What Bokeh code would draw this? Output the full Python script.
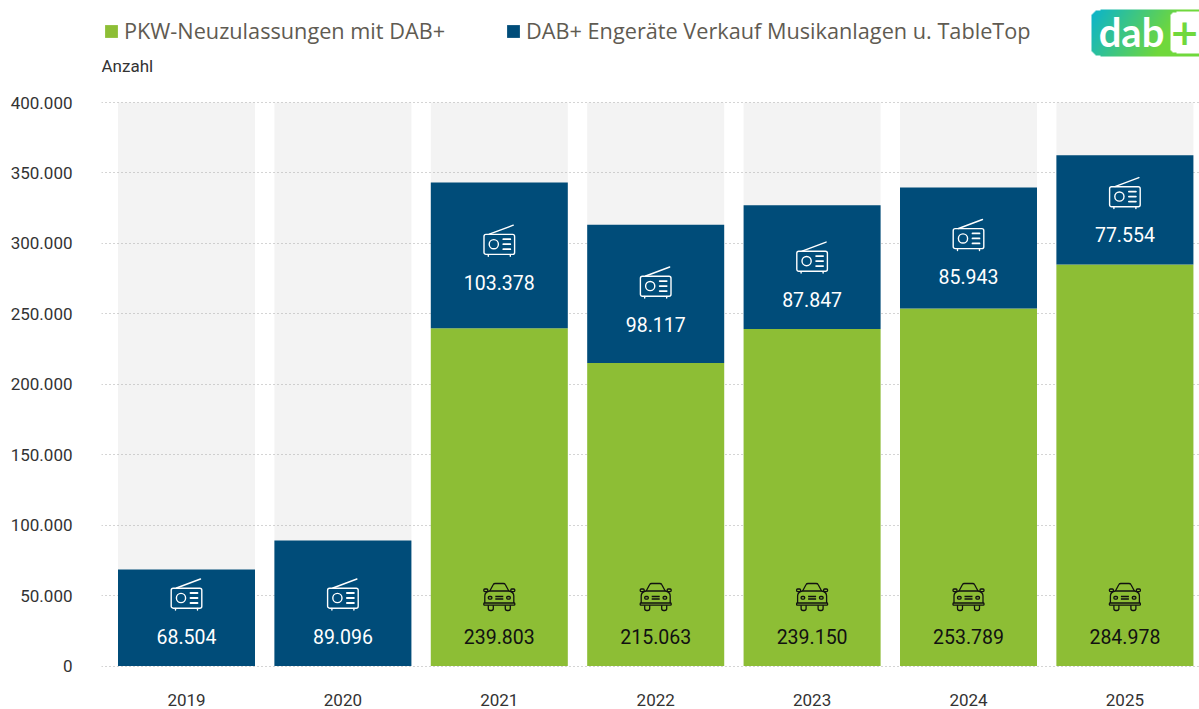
import base64
import numpy as np
from bokeh.core.properties import value
from bokeh.embed import file_html
from bokeh.models import FixedTicker, Label, Legend, LegendItem, Range1d
from bokeh.plotting import figure
from bokeh.resources import INLINE

years = ["2019", "2020", "2021", "2022", "2023", "2024", "2025"]
cars = [0, 0, 239803, 215063, 239150, 253789, 284978]
devices = [68504, 89096, 103378, 98117, 87847, 85943, 77554]
y_ticks = [0, 50000, 100000, 150000, 200000, 250000, 300000, 350000, 400000]
y_tick_labels = ["0", "50.000", "100.000", "150.000", "200.000", "250.000", "300.000", "350.000", "400.000"]
legend_labels = ["PKW-Neuzulassungen mit DAB+", "DAB+ Engeräte Verkauf Musikanlagen u. TableTop"]
y_title = "Anzahl"

GREEN, BLUE, BG = "#8dbe35", "#004c79", "#f3f3f3"
W, H = 1199, 709
LEFT, FRAME_BOTTOM, Y0, Y400 = 101, 667, 665.5, 102
XC0, STEP, BAR_PX = 186, 156.4, 137
U = 400000 / (Y0 - Y400)          # data units per pixel

def py(pix):
    return (Y0 - pix) * U

def px(pix):
    return (pix - XC0) / STEP

# layout: lift of the value labels above the bottom of their segment, in pixels
device_lift = [30, 30, 46, 39, 30, 32, 30]

x = list(range(len(years)))
tops = [c + d for c, d in zip(cars, devices)]
fmt = lambda v: f"{v:,}".replace(",", ".")

p = figure(width=W, height=H, output_backend="svg", toolbar_location=None,
           x_range=Range1d(px(LEFT), px(W)), y_range=Range1d(py(FRAME_BOTTOM), py(0)),
           min_border_left=LEFT, min_border_right=0, min_border_top=0,
           min_border_bottom=H - FRAME_BOTTOM, outline_line_color=None)
p.background_fill_color = "white"

# axes
p.xaxis.ticker = FixedTicker(ticks=x)
p.xaxis.major_label_overrides = dict(zip(x, years))
p.yaxis.ticker = FixedTicker(ticks=y_ticks)
p.yaxis.major_label_overrides = dict(zip(y_ticks, y_tick_labels))
for ax in (p.xaxis[0], p.yaxis[0]):
    ax.axis_line_color = None
    ax.major_tick_line_color = None
    ax.minor_tick_line_color = None
    ax.major_label_text_font = "Roboto"
    ax.major_label_text_font_size = "17px"
    ax.major_label_text_color = "#333333"
p.xaxis.major_label_standoff = 20
p.yaxis.major_label_standoff = 23
p.xgrid.visible = False
p.ygrid.ticker = FixedTicker(ticks=y_ticks)
p.ygrid.grid_line_color = "#a8a8a8"
p.ygrid.grid_line_dash = "1 3"
p.ygrid.grid_line_width = 1

bw = BAR_PX / STEP
p.vbar(x=x, top=400000, bottom=0, width=bw, fill_color=BG, line_color=None, level="image")
r_car = p.vbar(x=x, top=cars, bottom=0, width=bw, fill_color=GREEN, line_color=None)
r_dev = p.vbar(x=x, top=tops, bottom=cars, width=bw, fill_color=BLUE, line_color=None)

# value labels
dev_y = [c + l * U for c, l in zip(cars, device_lift)]
p.text(x=x, y=dev_y, text=[fmt(v) for v in devices], text_align="center", text_baseline="middle",
       text_color="white", text_font=value("Roboto"), text_font_size="19.5px")
car_idx = [i for i, c in enumerate(cars) if c]
p.text(x=car_idx, y=[py(636)] * len(car_idx), text=[fmt(cars[i]) for i in car_idx], text_align="center",
       text_baseline="middle", text_color="#111111", text_font=value("Roboto"), text_font_size="19.5px")

# icons
radio_svg = """<svg xmlns='http://www.w3.org/2000/svg' width='34' height='34' viewBox='0 0 34 34'>
<g fill='none' stroke='white' stroke-width='1.4' stroke-linecap='round'>
<rect x='1.7' y='10.7' width='30.6' height='20' rx='2'/><path d='M7 10.5 L31 1.5'/>
<circle cx='11.5' cy='20.5' r='4.6'/><path d='M21 15.5H28 M21 20.5H28 M21 25.5H28' stroke-width='1.8'/>
<path d='M6 31V32.5 M28 31V32.5'/></g></svg>"""
car_svg = """<svg xmlns='http://www.w3.org/2000/svg' width='34' height='30' viewBox='0 0 34 30'>
<g fill='none' stroke='#111' stroke-width='1.3' stroke-linejoin='round'>
<path d='M7.5 9 L11 2.5 Q11.5 1.5 13 1.5 H21 Q22.5 1.5 23 2.5 L26.5 9'/>
<rect x='1.5' y='7' width='4' height='2.6' rx='1'/><rect x='28.5' y='7' width='4' height='2.6' rx='1'/>
<path d='M2.5 21 V14 Q2.5 10 7.5 9 H26.5 Q31.5 10 31.5 14 V21'/>
<rect x='1.5' y='21' width='31' height='2.2' rx='.8'/>
<path d='M6 23.2 V26.5 Q6 28.5 8 28.5 H9 Q11 28.5 11 26.5 V23.2 M23 23.2 V26.5 Q23 28.5 25 28.5 H26 Q28 28.5 28 26.5 V23.2'/>
<rect x='6' y='14.5' width='3.6' height='2.6' rx='1'/><rect x='24.4' y='14.5' width='3.6' height='2.6' rx='1'/>
<path d='M13 14.5 H21 M13 17 H21'/></g></svg>"""
uri = lambda s: "data:image/svg+xml;base64," + base64.b64encode(s.encode()).decode()

p.image_url(url=[uri(radio_svg)] * len(x), x=x, y=[c + (l + 41.5) * U for c, l in zip(cars, device_lift)],
            w=34, h=34, w_units="screen", h_units="screen", anchor="center")
p.image_url(url=[uri(car_svg)] * len(car_idx), x=car_idx, y=[py(596.5)] * len(car_idx),
            w=34, h=30, w_units="screen", h_units="screen", anchor="center")

# legend
leg = Legend(items=[LegendItem(label=legend_labels[0], renderers=[r_car]),
                    LegendItem(label=legend_labels[1], renderers=[r_dev])],
             orientation="horizontal", location=(2, FRAME_BOTTOM - 45), padding=0, margin=0, spacing=60,
             glyph_width=16, glyph_height=16, label_standoff=5, border_line_color=None,
             background_fill_alpha=0, label_text_font="Open Sans", label_text_font_size="21.7px",
             label_text_color="#5f5b52", label_height=16)
p.add_layout(leg)

p.add_layout(Label(x=px(LEFT), y=py(65), text=y_title, text_font="Roboto", text_font_size="17px",
                   text_color="#333333", text_baseline="middle"))

# logo
lw, lh = 108, 47
yy, xx = np.mgrid[0:lh, 0:lw]
t = np.clip((xx / lw * 0.8 + (lh - 1 - yy) / lh * 0.2) * 1.5, 0, 1)
c0, c1 = np.array([10, 180, 205]), np.array([112, 216, 60])
rgb = (c0[None, None, :] * (1 - t[..., None]) + c1[None, None, :] * t[..., None]).astype(np.uint8)
alpha = np.full((lh, lw), 255, dtype=np.uint8)
R = 9
for cy, flip in ((R, False), (lh - 1 - R, True)):
    for j in range(R):
        row = cy - R + j if not flip else cy + R - j
        reach = int(R - np.sqrt(max(R * R - (R - j) ** 2, 0)))
        alpha[row, :reach] = 0
logo = np.zeros((lh, lw), dtype=np.uint32)
view = logo.view(np.uint8).reshape(lh, lw, 4)
view[..., :3] = rgb
view[..., 3] = alpha
view[3:45, 79:, :3] = 255
for j in range(6):
    reach = int(6 - np.sqrt(36 - (6 - j) ** 2))
    view[3 + j, 79:79 + reach, :3] = rgb[3 + j, 79:79 + reach]
    view[44 - j, 79:79 + reach, :3] = rgb[44 - j, 79:79 + reach]
p.image_rgba(image=[logo], x=[px(1091)], y=[py(56)], dw=[108 / STEP], dh=[47 * U])
p.text(x=[px(1131)], y=[py(31)], text=["dab"], text_align="center", text_baseline="middle", text_color="white",
       text_font=value("Lato"), text_font_style="bold", text_font_size="40px")
p.text(x=[px(1184)], y=[py(31)], text=["+"], text_align="center", text_baseline="middle", text_color="#70d83c",
       text_font=value("DejaVu Sans"), text_font_style="bold", text_font_size="36px")

open("out.html", "w").write(file_html(p, INLINE))
